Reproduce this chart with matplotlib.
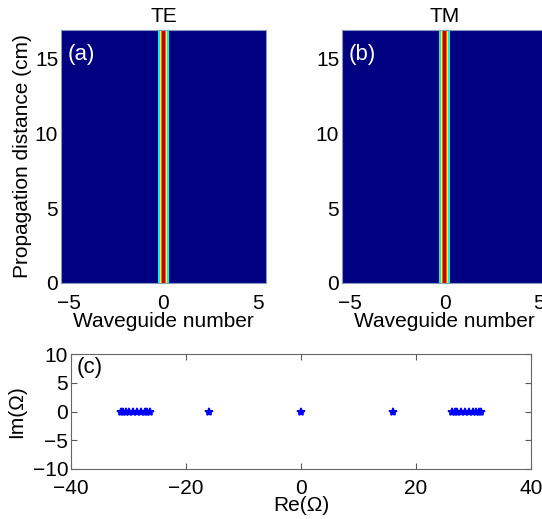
import numpy as np
import matplotlib.pyplot as plt

plt.rcParams['font.family'] = ['Liberation Sans', 'DejaVu Sans']
plt.rcParams['font.size'] = 12

# beam intensity across waveguides (constant along propagation)
wg_edges = [-5.4, -0.27, -0.18, -0.13, -0.06, 0.06, 0.13, 0.18, 0.27, 5.4]
te_profile = [0, 0.36, 0.64, 0.8, 0.94, 0.8, 0.64, 0.36, 0]
tm_profile = [0, 0.36, 0.64, 0.8, 0.94, 0.8, 0.64, 0.36, 0]
z_edges = [0, 16.9]

# eigenvalues
re_omega = [-31.3, -31.0, -30.5, -29.9, -29.2, -28.5, -27.8, -27.2, -26.7, -26.3,
            -16.0, 0.0, 16.0,
            26.3, 26.7, 27.2, 27.8, 28.5, 29.2, 29.9, 30.5, 31.0, 31.3]
im_omega = [0.0] * len(re_omega)

W, H = 542, 519
fig = plt.figure(figsize=(W / 100, H / 100), dpi=100)

ax_a = fig.add_axes([61 / W, 1 - 283 / H, 205 / W, 253 / H])
ax_b = fig.add_axes([342 / W, 1 - 283 / H, 205 / W, 253 / H])
ax_c = fig.add_axes([71 / W, 1 - 469 / H, 460 / W, 115 / H])

for ax, prof, title, lab in [(ax_a, te_profile, 'TE', '(a)'),
                             (ax_b, tm_profile, 'TM', '(b)')]:
    ax.pcolormesh(wg_edges, z_edges, np.array([prof]), cmap='jet', vmin=0, vmax=1)
    ax.set_xlim(-5.4, 5.4)
    ax.set_ylim(0, 16.9)
    ax.set_xticks([-5, 0, 5])
    ax.set_yticks([0, 5, 10, 15])
    ax.tick_params(direction='in', length=0, labelsize=15, pad=2)
    ax.tick_params(axis='x', pad=8)
    ax.set_title(title, fontsize=15, pad=6)
    ax.set_xlabel('Waveguide number', fontsize=15, labelpad=-1)
    ax.text(0.03, 0.945, lab, transform=ax.transAxes, color='white',
            fontsize=16, va='top', ha='left')
    for s in ax.spines.values():
        s.set_color('#8899bb')
        s.set_linewidth(0.8)

ax_a.set_ylabel('Propagation distance (cm)', fontsize=15, labelpad=2)

ax_c.plot(re_omega, im_omega, '*', color='blue', markersize=6,
          markeredgewidth=1.2, linestyle='none')
ax_c.set_xlim(-40, 40)
ax_c.set_ylim(-10, 10)
ax_c.set_xticks([-40, -20, 0, 20, 40])
ax_c.set_yticks([-10, -5, 0, 5, 10])
ax_c.tick_params(direction='in', top=True, right=True, length=4,
                 color='0.35', labelsize=15, pad=2)
ax_c.tick_params(axis='x', pad=7)
ax_c.set_xlabel('Re(Ω)', fontsize=15, labelpad=-1)
ax_c.set_ylabel('Im(Ω)', fontsize=15, labelpad=5)
ax_c.text(0.012, 0.97, '(c)', transform=ax_c.transAxes, fontsize=16,
          va='top', ha='left')
for s in ax_c.spines.values():
    s.set_color('0.4')
    s.set_linewidth(0.8)

fig.savefig('out.png', dpi=100)
